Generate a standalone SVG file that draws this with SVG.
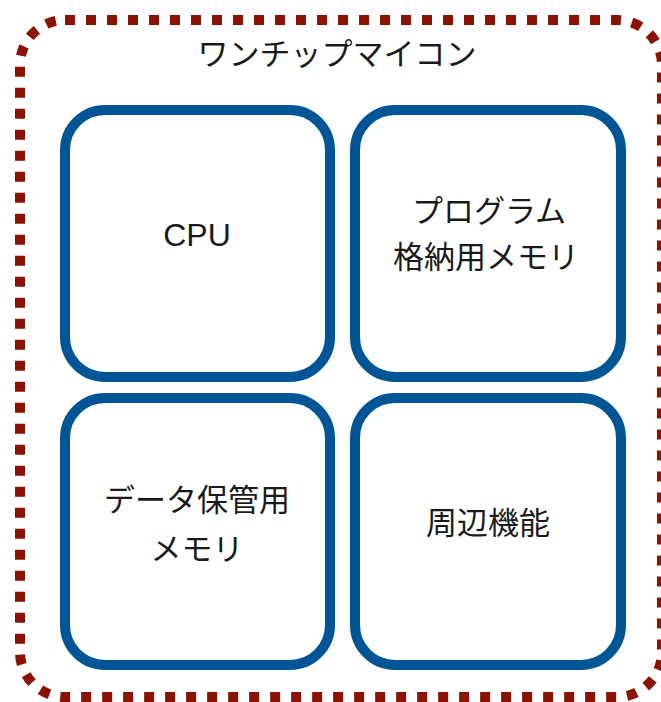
<svg xmlns="http://www.w3.org/2000/svg" width="661" height="702" viewBox="0 0 661 702">
<style>
.box{fill:#fff;stroke:#005596;stroke-width:10}
.outer{fill:#fff;stroke:#8c1204;stroke-width:10;stroke-dasharray:10 11}
text{font-family:"Liberation Sans","Noto Sans CJK JP",sans-serif;font-size:31px;fill:#1a1a1a;text-anchor:middle}
</style>
<rect width="661" height="702" fill="#fff"/>
<g id="mcu">
<rect class="outer" x="20" y="20" width="642" height="677" rx="45" ry="45"/>
<text x="337" y="65">ワンチップマイコン</text>
</g>
<g id="cpu">
<rect class="box" x="65" y="110" width="265" height="267" rx="40" ry="40"/>
<text x="197" y="246" style="font-size:32px">CPU</text>
</g>
<g id="program-memory">
<rect class="box" x="355" y="110" width="266" height="267" rx="40" ry="40"/>
<text x="489" y="222">プログラム</text>
<text x="486" y="268">格納用メモリ</text>
</g>
<g id="data-memory">
<rect class="box" x="65" y="398" width="265" height="267" rx="40" ry="40"/>
<text x="197" y="511">データ保管用</text>
<text x="197" y="560">メモリ</text>
</g>
<g id="peripherals">
<rect class="box" x="355" y="398" width="266" height="267" rx="40" ry="40"/>
<text x="488" y="534">周辺機能</text>
</g>
<g id="connectors"/>
</svg>
